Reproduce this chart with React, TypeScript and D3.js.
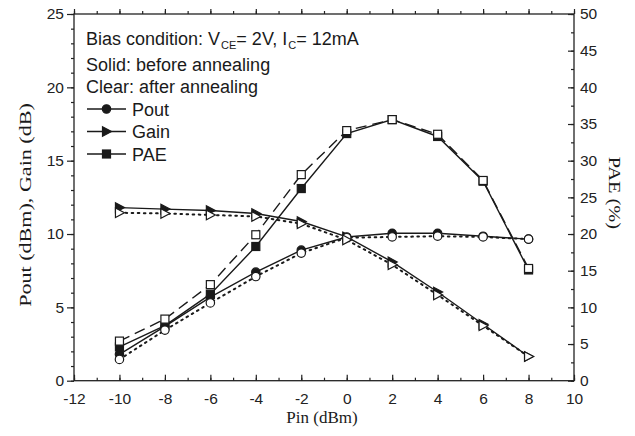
import React, { useRef, useEffect } from 'react';
import { select, scaleLinear, axisBottom, axisTop, axisLeft, axisRight, line, range } from 'd3';

// Pin sweep (dBm)
const pin = [-10, -8, -6, -4, -2, 0, 2, 4, 6, 8];

// before annealing (solid)
const poutBefore = [1.8, 3.7, 5.7, 7.4, 8.9, 9.8, 10.05, 10.05, 9.85, 9.65];
const gainBefore = [11.8, 11.7, 11.6, 11.4, 10.85, 9.8, 8.1, 6.05, 3.85, 1.65];
const paeBefore = [4.6, 7.5, 11.8, 18.3, 26.2, 33.7, 35.6, 33.3, 27.2, 15.1];

// after annealing (clear)
const poutAfter = [1.45, 3.45, 5.3, 7.1, 8.7, 9.75, 9.8, 9.85, 9.8, 9.65];
const gainAfter = [11.45, 11.4, 11.3, 11.2, 10.7, 9.6, 7.9, 5.85, 3.75, 1.65];
const paeAfter = [5.4, 8.4, 13.1, 19.9, 28.1, 34.1, 35.6, 33.6, 27.3, 15.3];

const legendNames = ['Pout', 'Gain', 'PAE'];
const xTicks = range(-12, 11, 2);
const yLeftTicks = [0, 5, 10, 15, 20, 25];
const yRightTicks = range(0, 51, 5);

const W = 635;
const H = 436;
const sans = '"Liberation Sans", Arial, Helvetica, sans-serif';
const serif = '"Liberation Serif", "Times New Roman", serif';

const tri = 'M-4,-4.8L5,0L-4,4.8Z';

function Marker({ kind, x, y, filled }: { kind: string; x: number; y: number; filled: boolean }) {
  const fill = filled ? '#1a1a1a' : '#fff';
  if (kind === 'circle') return <circle cx={x} cy={y} r={4.2} fill={fill} stroke="#1a1a1a" strokeWidth={1.2} />;
  if (kind === 'square') return <rect x={x - 4} y={y - 4} width={8} height={8} fill={fill} stroke="#1a1a1a" strokeWidth={1.2} />;
  return <path d={tri} transform={`translate(${x},${y})`} fill={fill} stroke="#1a1a1a" strokeWidth={1.2} />;
}

export default function App() {
  const axRef = useRef<SVGGElement>(null);

  const x = scaleLinear().domain([-12, 10]).range([74, 574]);
  const yL = scaleLinear().domain([0, 25]).range([380.7, 14]);
  const yR = scaleLinear().domain([0, 50]).range([380.7, 14]);

  useEffect(() => {
    const g = select(axRef.current);
    g.selectAll('*').remove();

    const style = (sel: any) => {
      sel.select('.domain').remove();
      sel.selectAll('line').attr('stroke', '#222').attr('stroke-width', 1.2);
      sel.selectAll('text').attr('fill', '#222').style('font-family', sans).style('font-size', '15.5px');
    };

    // bottom
    g.append('g').attr('transform', 'translate(0,380.7)')
      .call(axisBottom(x).tickValues(range(-12, 11, 1)).tickSize(-3).tickFormat(() => '') as any).call(style);
    g.append('g').attr('transform', 'translate(0,380.7)')
      .call(axisBottom(x).tickValues(xTicks).tickSize(-6).tickPadding(12).tickFormat((d: any) => String(d)) as any).call(style);
    // top
    g.append('g').attr('transform', 'translate(0,14)')
      .call(axisTop(x).tickValues(range(-12, 11, 1)).tickSize(3).tickFormat(() => '') as any).call(style);
    g.append('g').attr('transform', 'translate(0,14)')
      .call(axisTop(x).tickValues(xTicks).tickSize(5).tickFormat(() => '') as any).call(style);
    // left
    g.append('g').attr('transform', 'translate(74,0)')
      .call(axisLeft(yL).tickValues(range(0, 26, 1)).tickSize(3).tickFormat(() => '') as any).call(style);
    g.append('g').attr('transform', 'translate(74,0)')
      .call(axisLeft(yL).tickValues(yLeftTicks).tickSize(7).tickPadding(3).tickFormat((d: any) => String(d)) as any).call(style);
    // right
    g.append('g').attr('transform', 'translate(574,0)')
      .call(axisRight(yR).tickValues(range(0, 51, 2.5)).tickSize(-3).tickFormat(() => '') as any).call(style);
    g.append('g').attr('transform', 'translate(574,0)')
      .call(axisRight(yR).tickValues(yRightTicks).tickSize(-6).tickPadding(6).tickFormat((d: any) => String(d)) as any).call(style);
  }, []);

  const lineL = line<number>().x((_, i) => x(pin[i])).y((d) => yL(d));
  const lineR = line<number>().x((_, i) => x(pin[i])).y((d) => yR(d));

  const series = [
    { vals: poutBefore, gen: lineL, kind: 'circle', filled: true, dash: undefined },
    { vals: gainBefore, gen: lineL, kind: 'tri', filled: true, dash: undefined },
    { vals: paeBefore, gen: lineR, kind: 'square', filled: true, dash: undefined },
    { vals: poutAfter, gen: lineL, kind: 'circle', filled: false, dash: '1.6 4.5' },
    { vals: gainAfter, gen: lineL, kind: 'tri', filled: false, dash: '1.6 4.5' },
    { vals: paeAfter, gen: lineR, kind: 'square', filled: false, dash: '11 6' },
  ];
  const legendKinds = ['circle', 'tri', 'square'];

  return (
    <svg width={W} height={H} style={{ position: 'absolute', left: 0, top: 0, background: '#fff' }}>
      <rect x={74} y={14} width={500} height={366.7} fill="none" stroke="#222" strokeWidth={1.3} />
      <g ref={axRef} />

      {series.map((s, k) => (
        <g key={k}>
          <path d={s.gen(s.vals) || ''} fill="none" stroke="#1a1a1a" strokeWidth={s.dash && s.dash.startsWith('1.6') ? 2 : 1.4}
            strokeDasharray={s.dash} strokeLinecap={s.dash && s.dash.startsWith('1.6') ? 'round' : 'butt'} />
          {s.vals.map((v, i) => (
            <Marker key={i} kind={s.kind} x={x(pin[i])} y={s.gen === lineL ? yL(v) : yR(v)} filled={s.filled} />
          ))}
        </g>
      ))}

      <g style={{ fontFamily: sans, fontSize: '18px' }} fill="#1a1a1a">
        <text x={86} y={45}>
          Bias condition: V<tspan fontSize="11" dy={4} dx={1}>CE</tspan><tspan dy={-4}>= 2V, I</tspan>
          <tspan fontSize="11" dy={4} dx={1}>C</tspan><tspan dy={-4}>= 12mA</tspan>
        </text>
        <text x={86} y={71}>Solid: before annealing</text>
        <text x={86} y={93}>Clear: after annealing</text>
        {legendNames.map((n, i) => {
          const ly = 109 + i * 22.5;
          return (
            <g key={n}>
              <line x1={87} x2={126} y1={ly} y2={ly} stroke="#1a1a1a" strokeWidth={1.4} />
              <Marker kind={legendKinds[i]} x={106.5} y={ly} filled={true} />
              <text x={132} y={ly + 6.5}>{n}</text>
            </g>
          );
        })}
      </g>

      <text x={322} y={423} textAnchor="middle" style={{ fontFamily: serif, fontSize: '17px' }} fill="#1a1a1a">Pin (dBm)</text>
      <text transform="translate(31,205) rotate(-90) scale(1.3,1)" textAnchor="middle" style={{ fontFamily: serif, fontSize: '17px' }} fill="#1a1a1a">Pout (dBm), Gain (dB)</text>
      <text transform="translate(609,193) rotate(90) scale(1.2,1)" textAnchor="middle" style={{ fontFamily: serif, fontSize: '17px' }} fill="#1a1a1a">PAE (%)</text>
    </svg>
  );
}
